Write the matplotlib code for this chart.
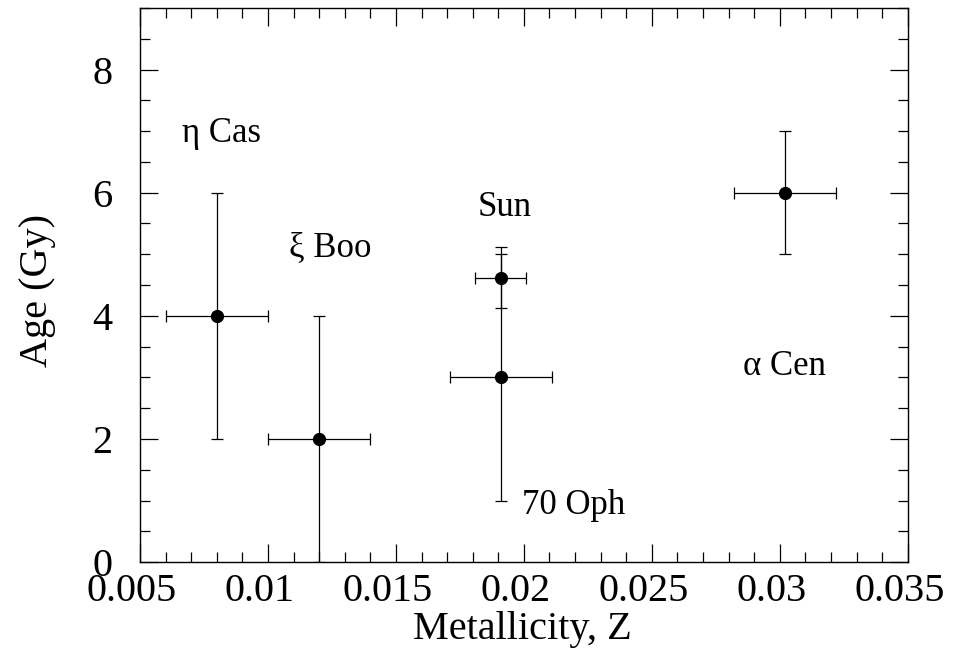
import matplotlib
matplotlib.use("Agg")
import matplotlib.pyplot as plt
import matplotlib.transforms as mtransforms
from matplotlib.ticker import MultipleLocator, FormatStrFormatter

# star data
stars = ["η Cas", "ξ Boo", "Sun", "70 Oph", "α Cen"]
metallicity = [0.008, 0.012, 0.0191, 0.0191, 0.0302]
metallicity_err = [0.002, 0.002, 0.001, 0.002, 0.002]
age = [4.0, 2.0, 4.62, 3.0, 6.0]
age_err = [2.0, 2.0, 0.5, 2.0, 1.0]

# where each name sits (data coords, text baseline)
label_x = [0.0082, 0.01242, 0.01926, 0.02195, 0.03018]
label_y = [6.82, 4.96, 5.62, 0.78, 3.04]

plt.rcParams["font.family"] = ["Liberation Serif", "DejaVu Serif"]

fig = plt.figure(figsize=(9.73, 6.66), dpi=100)
ax = fig.add_axes([0.1439, 0.156, 0.789, 0.832])

ax.errorbar(
    metallicity, age, xerr=metallicity_err, yerr=age_err,
    fmt="o", color="black", markersize=8.5, elinewidth=0.9,
    capsize=4.3, capthick=0.9,
)

for name, x, y in zip(stars, label_x, label_y):
    ax.text(x, y, name, fontsize=25, ha="center", va="baseline")

ax.set_xlim(0.005, 0.035)
ax.set_ylim(0, 9)
ax.xaxis.set_major_locator(MultipleLocator(0.005))
ax.xaxis.set_minor_locator(MultipleLocator(0.001))
ax.yaxis.set_major_locator(MultipleLocator(2))
ax.yaxis.set_minor_locator(MultipleLocator(0.5))
ax.xaxis.set_major_formatter(FormatStrFormatter("%g"))

ax.tick_params(which="both", direction="in", top=True, right=True,
               labelsize=29, width=0.9)
ax.tick_params(which="major", length=13)
ax.tick_params(axis="x", which="major", pad=8)
ax.tick_params(axis="y", which="major", pad=20)
ax.tick_params(which="minor", length=7)
for spine in ax.spines.values():
    spine.set_linewidth(1.0)

# x tick labels sit a little left of their ticks in the original
shift = mtransforms.ScaledTranslation(-8 / 100, 0, fig.dpi_scale_trans)
for lbl in ax.get_xticklabels():
    lbl.set_transform(lbl.get_transform() + shift)

ax.set_xlabel("Metallicity, Z", fontsize=29)
ax.set_ylabel("Age (Gy)", fontsize=29)
ax.xaxis.set_label_coords(0.498, -0.088)
ax.yaxis.set_label_coords(-0.109, 0.49)

fig.savefig("out.png", dpi=100)
